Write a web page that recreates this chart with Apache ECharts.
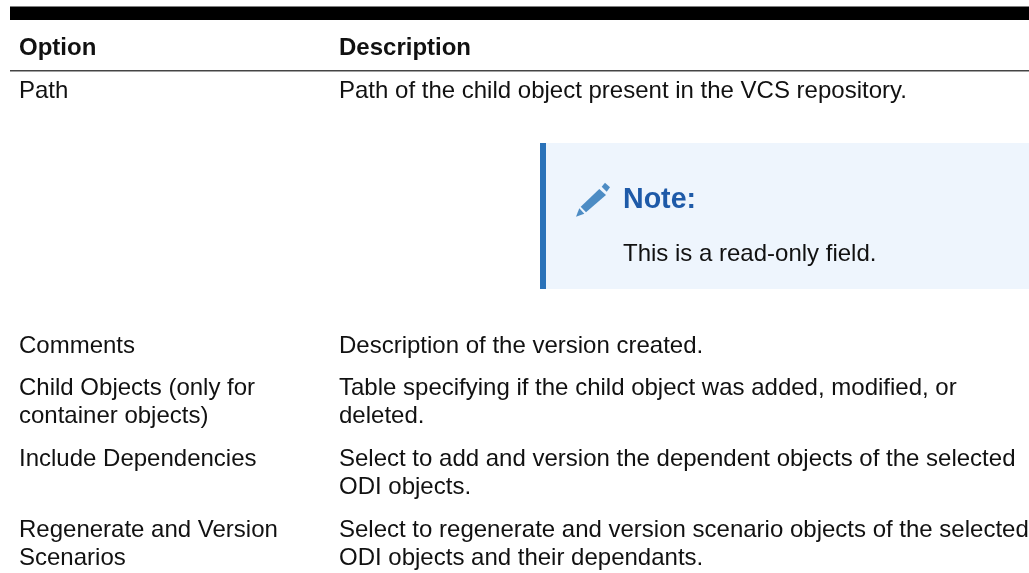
<!DOCTYPE html>
<html><head><meta charset="utf-8">
<style>html,body{margin:0;padding:0;background:#fff}#c{width:1029px;height:573px}</style>
<script src="https://cdn.jsdelivr.net/npm/echarts@6/dist/echarts.min.js"></script></head>
<body><div id="c"></div>
<script>
const headers = ['Option', 'Description'];
const optionCol = ['Path', 'Comments', 'Child Objects (only for', 'container objects)', 'Include Dependencies', 'Regenerate and Version', 'Scenarios'];
const descCol = ['Path of the child object present in the VCS repository.', 'Description of the version created.', 'Table specifying if the child object was added, modified, or', 'deleted.', 'Select to add and version the dependent objects of the selected', 'ODI objects.', 'Select to regenerate and version scenario objects of the selected', 'ODI objects and their dependants.'];
const noteTitle = 'Note:';
const noteBody = 'This is a read-only field.';

const optionY = [91, 346, 388, 416, 459, 530, 558];
const descY = [91, 346, 388, 416, 459, 487, 530, 558];
const FONT = '"Liberation Sans", Arial, sans-serif';
const FS = 24;
const txt = (s, x, y, o = {}) => ({type: 'text', x, y, silent: true, style: {
  text: s, x: 0, y: 0, fill: o.fill || '#111', font: `${o.weight || 'normal'} ${o.size || FS}px ${FONT}`,
  verticalAlign: 'middle', align: 'left'}});
const rect = (x, y, w, h, fill) => ({type: 'rect', shape: {x, y, width: w, height: h}, style: {fill}, silent: true});
const poly = (points, fill) => ({type: 'polygon', shape: {points}, style: {fill}, silent: true});

const els = [
  rect(10, 6.5, 1019, 13.5, '#000'),
  rect(10, 70, 1019, 1.5, '#444'),
  rect(540, 143, 489, 146, '#eef5fd'),
  rect(540, 143, 6, 146, '#2a72b9'),
  poly([[599.3, 189], [606, 195], [586, 212.3], [580.7, 206.7]], '#4d8cc4'),
  poly([[601.7, 186.7], [605, 182.7], [610, 187.3], [606.7, 191.7]], '#4d8cc4'),
  poly([[579.3, 208.3], [584.3, 213.7], [576, 216.7]], '#4d8cc4'),
  txt(headers[0], 19, 48, {weight: 'bold'}),
  txt(headers[1], 339, 48, {weight: 'bold'}),
  txt(noteTitle, 623, 200, {weight: 'bold', fill: '#1e5aa8', size: 28.6}),
  txt(noteBody, 623, 254)
];
optionCol.forEach((s, i) => els.push(txt(s, 19, optionY[i])));
descCol.forEach((s, i) => els.push(txt(s, 339, descY[i])));

const chart = echarts.init(document.getElementById('c'), null, {renderer: 'canvas'});
chart.setOption({animation: false, graphic: {elements: els}});
</script></body></html>
